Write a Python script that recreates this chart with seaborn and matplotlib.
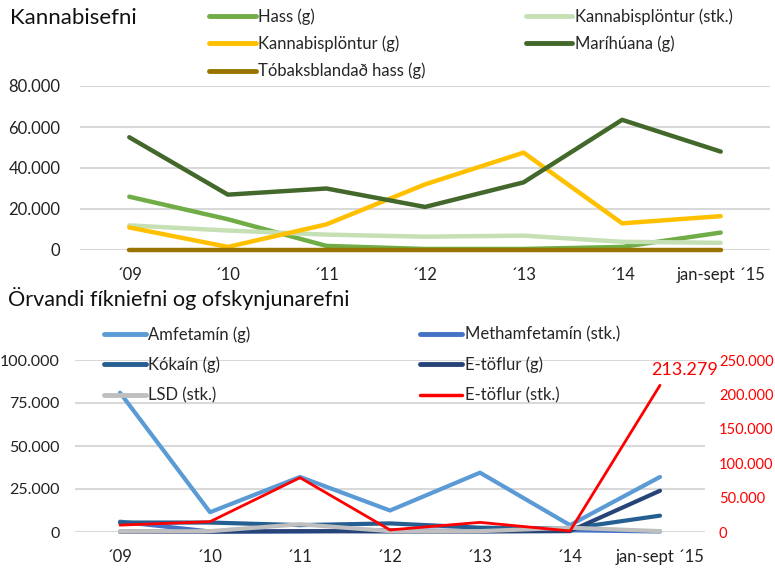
import pandas as pd
import numpy as np
import matplotlib
matplotlib.use("Agg")
import matplotlib.pyplot as plt
import seaborn as sns
from matplotlib.ticker import FuncFormatter

years = ["´09", "´10", "´11", "´12", "´13", "´14", "jan-sept ´15"]

# Kannabisefni
hass = [26000, 15000, 2000, 500, 500, 1500, 8500]
plontur_stk = [12000, 9500, 7500, 6500, 7000, 4000, 3500]
plontur_g = [11000, 1500, 12500, 32000, 47500, 13000, 16500]
mariuana = [55000, 27000, 30000, 21000, 33000, 63500, 48000]
tobak_hass = [200, 200, 200, 200, 200, 200, 200]

# Örvandi fíkniefni og ofskynjunarefni
amfetamin = [81000, 11500, 32000, 12500, 34500, 4000, 32000]
metham_stk = [6000, 300, 300, 1000, 500, 1000, 300]
kokain = [5500, 5500, 4000, 5000, 2500, 2000, 9500]
etoflur_g = [200, 200, 500, 300, 300, 500, 24000]
lsd_stk = [300, 500, 4500, 500, 500, 2500, 500]
etoflur_stk = [10000, 15000, 79000, 3000, 14000, 1500, 213279]

top_names = ["Hass (g)", "Kannabisplöntur (stk.)", "Kannabisplöntur (g)",
             "Maríhúana (g)", "Tóbaksblandað hass (g)"]
top_vals = [hass, plontur_stk, plontur_g, mariuana, tobak_hass]
top_colors = ["#70AD47", "#C5E0B4", "#FFC000", "#43682B", "#997300"]

bot_names = ["Amfetamín (g)", "Methamfetamín (stk.)", "Kókaín (g)",
             "E-töflur (g)", "LSD (stk.)"]
bot_vals = [amfetamin, metham_stk, kokain, etoflur_g, lsd_stk]
bot_colors = ["#5B9BD5", "#4472C4", "#255E91", "#264478", "#BFBFBF"]

sns.set_style("white")
plt.rcParams['font.family'] = ['Lato', 'DejaVu Sans']

def long_df(names, vals):
    rows = []
    for n, v in zip(names, vals):
        for y, val in zip(years, v):
            rows.append({"year": y, "series": n, "value": val})
    return pd.DataFrame(rows)

fmt = FuncFormatter(lambda v, p: f"{v:,.0f}".replace(",", "."))

fig = plt.figure(figsize=(7.75, 5.69), dpi=100)
ax1 = fig.add_axes([80/775, 1-250/569, 690/775, 164/569])
ax2 = fig.add_axes([75/775, 1-532/569, 630/775, 172/569])

def style_axis(ax, ymax, step, pad_y, size):
    ax.set_ylim(0, ymax)
    ax.set_yticks(np.arange(0, ymax + 1, step))
    ax.yaxis.set_major_formatter(fmt)
    ax.set_xlim(-0.5, 6.5)
    ax.grid(axis="y", color="#D9D9D9", linewidth=1.5)
    ax.grid(axis="x", visible=False)
    ax.set_axisbelow(True)
    for s in ax.spines.values():
        s.set_visible(False)
    ax.tick_params(axis="y", length=0, pad=pad_y, labelsize=size, labelcolor="#222222")
    ax.tick_params(axis="x", length=0, pad=12, labelsize=12, labelcolor="#222222")
    ax.set_xlabel("")
    ax.set_ylabel("")

# top chart
df_top = long_df(top_names, top_vals)
sns.lineplot(data=df_top, x="year", y="value", hue="series", hue_order=top_names,
             palette=top_colors, linewidth=3.2, sort=False, ax=ax1, legend=False,
             solid_capstyle="round")
for l in ax1.lines:
    l.set_clip_on(False)
style_axis(ax1, 80000, 20000, 14, 12)

# bottom chart
df_bot = long_df(bot_names, bot_vals)
sns.lineplot(data=df_bot, x="year", y="value", hue="series", hue_order=bot_names,
             palette=bot_colors, linewidth=3, sort=False, ax=ax2, legend=False,
             solid_capstyle="round")
for l in ax2.lines:
    l.set_clip_on(False)
style_axis(ax2, 100000, 25000, 11, 11.5)

ax3 = ax2.twinx()
df_red = pd.DataFrame({"year": years, "value": etoflur_stk})
sns.lineplot(data=df_red, x="year", y="value", color="#FF0000", linewidth=2,
             sort=False, ax=ax3, legend=False)
for l in ax3.lines:
    l.set_clip_on(False)
ax3.set_ylim(0, 250000)
ax3.set_yticks(np.arange(0, 250001, 50000))
ax3.yaxis.set_major_formatter(fmt)
ax3.tick_params(axis="y", length=0, pad=10, labelsize=10.5, labelcolor="#FF0000")
ax3.set_ylabel("")
for s in ax3.spines.values():
    s.set_visible(False)
ax3.annotate(f"{etoflur_stk[-1]:,}".replace(",", "."), xy=(6, etoflur_stk[-1]),
             xytext=(-6, 5), textcoords="offset points", color="#FF0000",
             fontsize=13, ha="left", va="bottom")

# titles
fig.text(10/775, 1-18/569, "Kannabisefni", fontsize=16, va="center", color="#111111")
fig.text(8/775, 1-298/569, "Örvandi fíkniefni og ofskynjunarefni", fontsize=15.6,
         va="center", color="#111111")

# legends
def make_handles(names, colors):
    return [plt.Line2D([], [], color=c, linewidth=3.5) for c in colors], names

order_top = [0, 2, 4, 1, 3]
h, n = make_handles(top_names, top_colors)
fig.legend([h[i] for i in order_top], [n[i] for i in order_top], ncol=2,
           loc="upper left", bbox_to_anchor=(209/775, 1-8/569), frameon=False,
           fontsize=12, handlelength=2.8, handletextpad=0.15, columnspacing=6.0,
           labelspacing=0.65, borderaxespad=0, borderpad=0)

bot_all_names = bot_names + ["E-töflur (stk.)"]
bot_all_colors = bot_colors + ["#FF0000"]
order_bot = [0, 2, 4, 1, 3, 5]
h, n = make_handles(bot_all_names, bot_all_colors)
h[5].set_linewidth(2.5)
fig.legend([h[i] for i in order_bot], [n[i] for i in order_bot], ncol=2,
           loc="upper left", bbox_to_anchor=(104/775, 1-326/569), frameon=False,
           fontsize=12, handlelength=2.5, handletextpad=0.15, columnspacing=10.2,
           labelspacing=0.85, borderaxespad=0, borderpad=0)

fig.savefig("out.png", dpi=100)
